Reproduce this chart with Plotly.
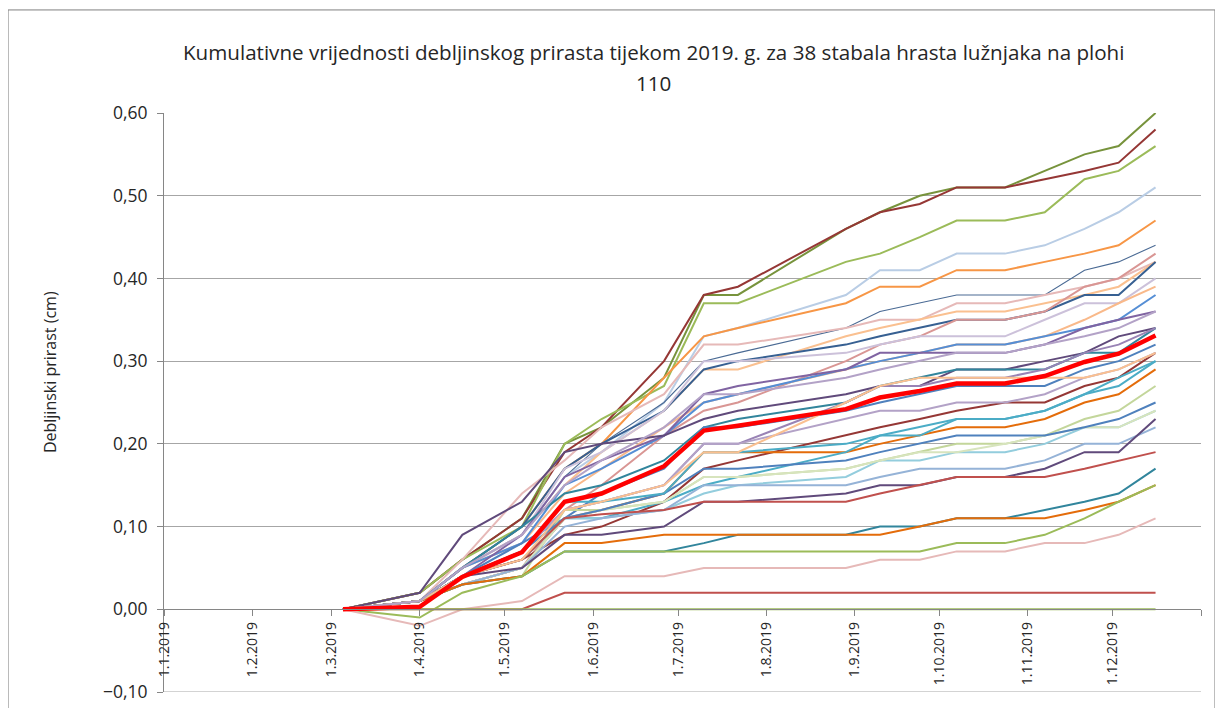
import plotly.graph_objects as go

# datumi mjerenja (dendrometarske trake)
datumi = ["2019-03-05", "2019-04-01", "2019-04-16", "2019-05-07", "2019-05-22", "2019-06-04",
          "2019-06-26", "2019-07-10", "2019-07-22", "2019-08-29", "2019-09-10", "2019-09-24",
          "2019-10-07", "2019-10-24", "2019-11-07", "2019-11-21", "2019-12-03", "2019-12-16"]

# kumulativni prirast po stablu (cm)
t01 = [0, 0.02, 0.06, 0.11, 0.20, 0.22, 0.28, 0.38, 0.38, 0.46, 0.48, 0.50, 0.51, 0.51, 0.53, 0.55, 0.56, 0.60]
t02 = [0, 0.02, 0.06, 0.11, 0.19, 0.22, 0.30, 0.38, 0.39, 0.46, 0.48, 0.49, 0.51, 0.51, 0.52, 0.53, 0.54, 0.58]
t03 = [0, 0.02, 0.06, 0.10, 0.20, 0.23, 0.27, 0.37, 0.37, 0.42, 0.43, 0.45, 0.47, 0.47, 0.48, 0.52, 0.53, 0.56]
t04 = [0, 0.01, 0.05, 0.09, 0.16, 0.19, 0.25, 0.33, 0.34, 0.38, 0.41, 0.41, 0.43, 0.43, 0.44, 0.46, 0.48, 0.51]
t05 = [0, 0.01, 0.05, 0.10, 0.17, 0.20, 0.28, 0.33, 0.34, 0.37, 0.39, 0.39, 0.41, 0.41, 0.42, 0.43, 0.44, 0.47]
t06 = [0, 0.01, 0.05, 0.09, 0.16, 0.20, 0.25, 0.30, 0.31, 0.34, 0.36, 0.37, 0.38, 0.38, 0.38, 0.41, 0.42, 0.44]
t07 = [0, 0.01, 0.06, 0.14, 0.18, 0.22, 0.26, 0.32, 0.32, 0.34, 0.35, 0.35, 0.37, 0.37, 0.38, 0.39, 0.40, 0.42]
t08 = [0, 0.01, 0.05, 0.09, 0.15, 0.19, 0.24, 0.29, 0.29, 0.33, 0.34, 0.35, 0.36, 0.36, 0.37, 0.38, 0.39, 0.42]
t09 = [0, 0.01, 0.05, 0.10, 0.17, 0.20, 0.24, 0.29, 0.30, 0.32, 0.33, 0.34, 0.35, 0.35, 0.36, 0.38, 0.38, 0.42]
t10 = [0, 0.01, 0.03, 0.05, 0.12, 0.15, 0.21, 0.24, 0.25, 0.30, 0.32, 0.33, 0.35, 0.35, 0.36, 0.39, 0.40, 0.43]
t11 = [0, 0.01, 0.05, 0.09, 0.17, 0.19, 0.24, 0.30, 0.30, 0.31, 0.32, 0.33, 0.33, 0.33, 0.35, 0.37, 0.37, 0.40]
t12 = [0, 0.01, 0.05, 0.08, 0.14, 0.17, 0.22, 0.25, 0.26, 0.29, 0.30, 0.31, 0.32, 0.32, 0.33, 0.35, 0.37, 0.39]
t13 = [0, 0.01, 0.05, 0.08, 0.15, 0.17, 0.21, 0.25, 0.26, 0.29, 0.30, 0.31, 0.32, 0.32, 0.33, 0.34, 0.35, 0.38]
t14 = [0, 0.01, 0.04, 0.09, 0.16, 0.18, 0.21, 0.26, 0.27, 0.29, 0.31, 0.31, 0.31, 0.31, 0.32, 0.34, 0.35, 0.36]
t15 = [0, 0.02, 0.09, 0.13, 0.19, 0.20, 0.21, 0.23, 0.24, 0.26, 0.27, 0.27, 0.29, 0.29, 0.30, 0.31, 0.33, 0.34]
t16 = [0, 0.01, 0.05, 0.10, 0.14, 0.15, 0.18, 0.22, 0.23, 0.25, 0.27, 0.28, 0.29, 0.29, 0.29, 0.31, 0.31, 0.34]
t17 = [0, 0.01, 0.04, 0.07, 0.12, 0.13, 0.15, 0.20, 0.20, 0.25, 0.27, 0.27, 0.28, 0.28, 0.29, 0.31, 0.32, 0.34]
t18 = [0, 0.01, 0.04, 0.08, 0.11, 0.14, 0.17, 0.22, 0.22, 0.24, 0.25, 0.26, 0.27, 0.27, 0.27, 0.29, 0.30, 0.32]
t19 = [0, 0.01, 0.04, 0.06, 0.09, 0.10, 0.13, 0.17, 0.18, 0.21, 0.22, 0.23, 0.24, 0.25, 0.25, 0.27, 0.28, 0.31]
t20 = [0, 0.01, 0.04, 0.07, 0.12, 0.13, 0.15, 0.20, 0.20, 0.23, 0.24, 0.24, 0.25, 0.25, 0.26, 0.28, 0.29, 0.31]
t21 = [0, 0.01, 0.03, 0.05, 0.11, 0.12, 0.14, 0.19, 0.19, 0.19, 0.20, 0.21, 0.22, 0.22, 0.23, 0.25, 0.26, 0.29]
t22 = [0, 0.01, 0.04, 0.06, 0.11, 0.11, 0.13, 0.15, 0.16, 0.19, 0.21, 0.21, 0.23, 0.23, 0.24, 0.26, 0.28, 0.30]
t23 = [0, 0.01, 0.03, 0.05, 0.11, 0.11, 0.12, 0.14, 0.15, 0.16, 0.18, 0.18, 0.19, 0.19, 0.20, 0.22, 0.22, 0.24]
t24 = [0, 0.01, 0.03, 0.04, 0.12, 0.12, 0.13, 0.16, 0.16, 0.17, 0.18, 0.19, 0.20, 0.20, 0.21, 0.23, 0.24, 0.27]
t25 = [0, 0.01, 0.03, 0.05, 0.11, 0.12, 0.13, 0.16, 0.16, 0.17, 0.18, 0.19, 0.19, 0.20, 0.21, 0.22, 0.22, 0.24]
t26 = [0, 0.01, 0.04, 0.07, 0.11, 0.12, 0.14, 0.17, 0.17, 0.18, 0.19, 0.20, 0.21, 0.21, 0.21, 0.22, 0.23, 0.25]
t27 = [0, 0.01, 0.03, 0.05, 0.10, 0.11, 0.12, 0.15, 0.15, 0.15, 0.16, 0.17, 0.17, 0.17, 0.18, 0.20, 0.20, 0.22]
t28 = [0, 0.01, 0.04, 0.05, 0.09, 0.09, 0.10, 0.13, 0.13, 0.14, 0.15, 0.15, 0.16, 0.16, 0.17, 0.19, 0.19, 0.23]
t29 = [0, 0.01, 0.04, 0.06, 0.11, 0.115, 0.12, 0.13, 0.13, 0.13, 0.14, 0.15, 0.16, 0.16, 0.16, 0.17, 0.18, 0.19]
t30 = [0, 0.01, 0.03, 0.04, 0.07, 0.07, 0.07, 0.08, 0.09, 0.09, 0.10, 0.10, 0.11, 0.11, 0.12, 0.13, 0.14, 0.17]
t31 = [0, 0.01, 0.03, 0.04, 0.08, 0.08, 0.09, 0.09, 0.09, 0.09, 0.09, 0.10, 0.11, 0.11, 0.11, 0.12, 0.13, 0.15]
t32 = [0, -0.01, 0.02, 0.04, 0.07, 0.07, 0.07, 0.07, 0.07, 0.07, 0.07, 0.07, 0.08, 0.08, 0.09, 0.11, 0.13, 0.15]
t33 = [0, -0.02, 0, 0.01, 0.04, 0.04, 0.04, 0.05, 0.05, 0.05, 0.06, 0.06, 0.07, 0.07, 0.08, 0.08, 0.09, 0.11]
t34 = [0, 0, 0, 0, 0.02, 0.02, 0.02, 0.02, 0.02, 0.02, 0.02, 0.02, 0.02, 0.02, 0.02, 0.02, 0.02, 0.02]
t35 = [0, 0, 0, 0, 0, 0, 0, 0, 0, 0, 0, 0, 0, 0, 0, 0, 0, 0]
t36 = [0, 0.01, 0.04, 0.07, 0.13, 0.13, 0.14, 0.19, 0.19, 0.20, 0.21, 0.22, 0.23, 0.23, 0.24, 0.26, 0.27, 0.30]
t37 = [0, 0.01, 0.04, 0.06, 0.12, 0.13, 0.15, 0.19, 0.19, 0.25, 0.27, 0.28, 0.28, 0.28, 0.28, 0.28, 0.29, 0.31]
t38 = [0, 0.01, 0.05, 0.09, 0.15, 0.18, 0.22, 0.26, 0.26, 0.28, 0.29, 0.30, 0.31, 0.31, 0.32, 0.33, 0.34, 0.36]

# prosjek plohe (crvena linija)
prosjek = [0, 0.003, 0.039, 0.069, 0.13, 0.14, 0.173, 0.216, 0.222, 0.242, 0.256, 0.264,
           0.273, 0.273, 0.282, 0.299, 0.309, 0.331]

stabla = [t01, t02, t03, t04, t05, t06, t07, t08, t09, t10, t11, t12, t13, t14, t15, t16, t17, t18, t19,
          t20, t21, t22, t23, t24, t25, t26, t27, t28, t29, t30, t31, t32, t33, t34, t35, t36, t37, t38]

boje = ["#77933C", "#953735", "#9BBB59", "#B9CDE5", "#F79646", "#4A6A94", "#E6B9B8", "#FAC090",
        "#376092", "#D99694", "#CCC1DA", "#F9B98A", "#558ED5", "#8064A2", "#604A7B", "#31859C",
        "#9983B5", "#4F81BD", "#953735", "#B3A2C7", "#E46C0A", "#4BACC6", "#93CDDD", "#C3D69B",
        "#D7E4BD", "#4F81BD", "#95B3D7", "#604A7B", "#C0504D", "#31859C", "#E46C0A", "#9BBB59",
        "#E6B9B8", "#C0504D", "#9BBB59", "#4BACC6", "#FAC090", "#B3A2C7"]

mjeseci = ["2019-%02d-01" % m for m in range(1, 13)] + ["2020-01-01"]
oznake = ["1.%d.2019" % m for m in range(1, 13)] + [""]

fig = go.Figure()

for i, (vals, c) in enumerate(zip(stabla, boje)):
    fig.add_trace(go.Scatter(
        x=datumi, y=vals, mode="lines",
        line=dict(color=c, width=1.1 if i == 5 else 2),
        name="stablo %d" % (i + 1), hoverinfo="skip"
    ))

fig.add_trace(go.Scatter(
    x=datumi, y=prosjek, mode="lines",
    line=dict(color="#FF0000", width=4.5),
    name="prosjek"
))

FONT = "Open Sans, Noto Sans, sans-serif"

# stranica ima 8px margine u body-u, pa su margine figure pomaknute za to
fig.update_layout(
    width=1223, height=708,
    paper_bgcolor="white", plot_bgcolor="white",
    showlegend=False,
    separators=", ",
    font=dict(family=FONT, color="#262626"),
    margin=dict(l=156, r=30, t=105, b=24),
    xaxis=dict(
        type="date",
        range=["2019-01-01", "2020-01-01"],
        anchor="free", position=1 / 7,
        tickvals=mjeseci, ticktext=oznake,
        tickangle=-90,
        tickfont=dict(size=14, color="#262626"),
        showgrid=False, zeroline=False,
        showline=True, linecolor="#868686", linewidth=1,
        ticks="outside", ticklen=6, tickcolor="#868686",
        automargin=False,
    ),
    yaxis=dict(
        range=[-0.1, 0.6],
        tickvals=[-0.1, 0, 0.1, 0.2, 0.3, 0.4, 0.5, 0.6],
        tickformat=".2f",
        tickfont=dict(size=17.5, color="#262626"),
        showgrid=True, gridcolor="#A6A6A6", gridwidth=1,
        zeroline=False,
        showline=True, linecolor="#868686", linewidth=1,
        ticks="outside", ticklen=6, tickcolor="#868686",
        ticklabelstandoff=6,
        automargin=False,
    ),
    shapes=[
        dict(type="rect", xref="paper", yref="paper",
             x0=-0.1504, x1=1.0135, y0=-0.2, y1=1.178,
             line=dict(color="#7F7F7F", width=1), layer="below"),
        dict(type="line", xref="paper", yref="y", x0=0, x1=1, y0=-0.1, y1=-0.1,
             line=dict(color="#A6A6A6", width=1), layer="below"),
    ],
    annotations=[
        dict(text="Kumulativne vrijednosti debljinskog prirasta tijekom 2019. g. za 38 stabala hrasta lužnjaka na plohi",
             xref="paper", yref="paper", x=0.4716, y=1.1054, showarrow=False,
             font=dict(size=20.6, color="#262626"), xanchor="center", yanchor="middle"),
        dict(text="110",
             xref="paper", yref="paper", x=0.4716, y=1.0518, showarrow=False,
             font=dict(size=20.6, color="#262626"), xanchor="center", yanchor="middle"),
        dict(text="Debljinski prirast (cm)",
             xref="paper", yref="paper", x=-0.11, y=0.5524, showarrow=False,
             textangle=-90, font=dict(size=16, color="#262626"),
             xanchor="center", yanchor="middle"),
    ],
)

fig.write_html("out.html")
